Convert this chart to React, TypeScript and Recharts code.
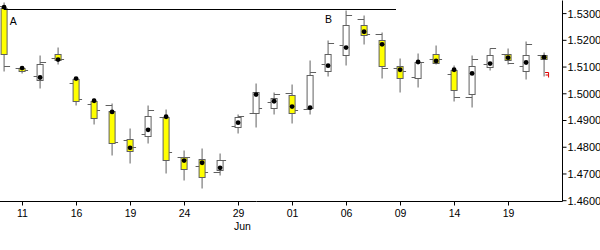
import { Bar, ComposedChart, ReferenceLine, Scatter, XAxis, YAxis } from "recharts";

// trading days, 10 May - 21 Jun
const dates = ["10", "11", "12", "15", "16", "17", "18", "19", "22", "23", "24", "25", "26", "29", "30", "31", "01", "02", "05", "06", "07", "08", "09", "12", "13", "14", "15", "16", "19", "20", "21"];
const opens = [1.5318, 1.5096, 1.5051, 1.5148, 1.5055, 1.4972, 1.4932, 1.483, 1.484, 1.4912, 1.4762, 1.4755, 1.4714, 1.4875, 1.4927, 1.4946, 1.4995, 1.4946, 1.5085, 1.5144, 1.5257, 1.52, 1.5103, 1.5058, 1.5148, 1.5088, 1.4998, 1.5099, 1.5148, 1.5085, 1.5144];
const closes = [1.5148, 1.5085, 1.5111, 1.5126, 1.4972, 1.4909, 1.4815, 1.4785, 1.4916, 1.4751, 1.4718, 1.4688, 1.4751, 1.4912, 1.5006, 1.4983, 1.4927, 1.507, 1.5148, 1.5257, 1.5219, 1.5103, 1.5058, 1.5118, 1.5114, 1.5013, 1.5103, 1.5144, 1.5126, 1.5144, 1.5129];
const highs = [1.5343, 1.5102, 1.5142, 1.5174, 1.5061, 1.4981, 1.4965, 1.4871, 1.4958, 1.494, 1.4789, 1.4797, 1.4775, 1.4924, 1.504, 1.5006, 1.5036, 1.5126, 1.5201, 1.531, 1.5294, 1.5229, 1.5133, 1.5152, 1.5182, 1.5107, 1.5144, 1.5171, 1.5171, 1.5197, 1.5156];
const lows = [1.5083, 1.5077, 1.5019, 1.5109, 1.4957, 1.4885, 1.4769, 1.474, 1.4815, 1.4703, 1.4677, 1.4645, 1.4695, 1.4852, 1.4875, 1.4924, 1.4887, 1.4924, 1.5066, 1.5107, 1.5186, 1.5058, 1.5006, 1.5025, 1.5111, 1.4972, 1.495, 1.5088, 1.5111, 1.5055, 1.5066];
const leftTicks = [1.5326, 1.5096, 1.5066, 1.5133, 1.504, 1.4961, 1.4955, 1.4826, 1.4849, 1.4912, 1.4762, 1.4729, 1.4704, 1.4879, 1.4927, 1.4968, 1.5002, 1.4942, 1.5111, 1.5182, 1.5277, 1.5223, 1.5096, 1.5062, 1.5129, 1.5073, 1.4987, 1.5111, 1.5148, 1.5103, 1.5144];
const rightTicks = [1.5102, 1.5088, 1.5118, 1.5129, 1.498, 1.4939, 1.4819, 1.48, 1.4937, 1.4779, 1.476, 1.4707, 1.4751, 1.4916, 1.4946, 1.4998, 1.4936, 1.5081, 1.5189, 1.5292, 1.5223, 1.5096, 1.5085, 1.5118, 1.5129, 1.4987, 1.5129, 1.5171, 1.5114, 1.5185, null];
const dots = [1.5324, 1.5096, 1.5061, 1.5128, 1.5057, 1.4974, 1.4932, 1.4798, 1.4865, 1.4914, 1.475, 1.4742, 1.4723, 1.4892, 1.4997, 1.4972, 1.4952, 1.4948, 1.5105, 1.5173, 1.5232, 1.5185, 1.509, 1.5119, 1.5123, 1.509, 1.5076, 1.5113, 1.5135, 1.5117, 1.5137];
const lastMark = 1.5072;

const xTicks = [1, 4, 7, 10, 13, 16, 19, 22, 25, 28];
const yTicks = [1.46, 1.47, 1.48, 1.49, 1.5, 1.51, 1.52, 1.53];
const trendX = [0, 21.75];
const trendY = [1.5317, 1.5314];
const labels = [
  { i: 0.49, v: 1.5272, t: "A" },
  { i: 18, v: 1.528, t: "B" },
];

const rows = dates.map((d, i) => ({
  i,
  date: d,
  open: opens[i],
  close: closes[i],
  high: highs[i],
  low: lows[i],
  lt: leftTicks[i],
  rt: rightTicks[i],
  dot: dots[i],
  last: i === dates.length - 1 ? lastMark : null,
}));

const GREY = "#606060";
const FONT = "'Liberation Sans', Arial, sans-serif";
const snap = (v: number) => Math.floor(v) + 0.5;

function Candle(props: any) {
  const { x, y, width, height, payload } = props;
  if (x == null || y == null) return null;
  const cx = x + width / 2;
  const top = Math.min(y, y + height);
  const bot = Math.max(y, y + height);
  const toY = (v: number) => top + ((payload.high - v) / (payload.high - payload.low)) * (bot - top);
  const up = payload.close >= payload.open;
  const bTop = snap(toY(Math.max(payload.open, payload.close)));
  const bBot = snap(toY(Math.min(payload.open, payload.close)));
  return (
    <g>
      <line x1={cx} x2={cx} y1={snap(toY(payload.high))} y2={snap(toY(payload.low))} stroke={GREY} />
      <line x1={cx - 6.5} x2={cx} y1={snap(toY(payload.lt))} y2={snap(toY(payload.lt))} stroke={GREY} />
      {payload.rt != null && (
        <line x1={cx} x2={cx + 6} y1={snap(toY(payload.rt))} y2={snap(toY(payload.rt))} stroke={GREY} />
      )}
      <rect x={cx - 3} y={bTop} width={6} height={Math.max(bBot - bTop, 1)} fill={up ? "#ffffff" : "#ffff00"} stroke={GREY} />
      <circle cx={cx} cy={toY(payload.dot)} r={2.4} fill="#000" />
      {payload.last != null && (
        <path
          d={`M${cx + 1} ${snap(toY(payload.last)) - 2}H${cx + 4.5}V${snap(toY(payload.last)) + 3}M${cx + 1.5} ${snap(toY(payload.last)) + 0.5}H${cx + 4}`}
          stroke="#e00000"
          fill="none"
        />
      )}
    </g>
  );
}

function DateTick(props: any) {
  const { x, y, payload } = props;
  const d = dates[payload.value];
  return (
    <g>
      <text x={x} y={y} dy="0.71em" textAnchor="middle" fontSize={10.5} fontFamily={FONT} fill="#000">
        {d}
      </text>
      {payload.value === 13 && (
        <text x={x - 4.5} y={y + 13.5} dy="0.71em" textAnchor="start" fontSize={10.5} fontFamily={FONT} fill="#000">
          Jun
        </text>
      )}
    </g>
  );
}

function LabelText(props: any) {
  const { cx, cy, payload } = props;
  return (
    <text x={cx} y={cy} dy="0.36em" textAnchor="middle" fontSize={10.5} fontFamily={FONT} fill="#000">
      {payload.t}
    </text>
  );
}

export default function App() {
  return (
    <div style={{ position: "absolute", left: 0, top: 0, width: 600, height: 250, background: "#fff" }}>
      <ComposedChart width={600} height={250} data={rows} margin={{ top: 0.5, right: 0, bottom: 0, left: 0 }}>
        <XAxis
          dataKey="i"
          type="number"
          domain={[-0.25, 31]}
          ticks={xTicks}
          interval={0}
          allowDataOverflow
          height={48.5}
          tickSize={4}
          tickMargin={4}
          stroke="#000"
          tick={<DateTick />}
        />
        <YAxis
          orientation="right"
          type="number"
          domain={[1.4597, 1.5349]}
          ticks={yTicks}
          allowDataOverflow
          width={37.5}
          tickSize={4}
          tickMargin={1}
          stroke="#000"
          tickFormatter={(v: number) => v.toFixed(4)}
          tick={{ fontSize: 11, fontFamily: FONT, fill: "#000" }}
        />
        <ReferenceLine
          segment={[
            { x: trendX[0], y: trendY[0] },
            { x: trendX[1], y: trendY[1] },
          ]}
          stroke="#000"
          shapeRendering="crispEdges"
        />
        <Bar dataKey={(d: any) => [d.low, d.high]} barSize={6} shape={<Candle />} isAnimationActive={false} />
        <Scatter data={labels} dataKey="v" shape={<LabelText />} isAnimationActive={false} />
      </ComposedChart>
    </div>
  );
}
